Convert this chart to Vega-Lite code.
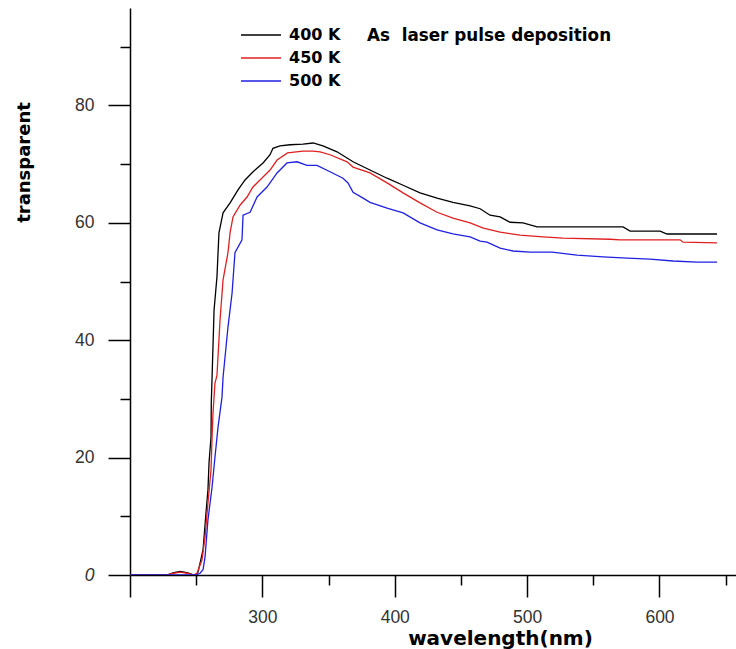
{
  "$schema": "https://vega.github.io/schema/vega-lite/v6.json",
  "width": 606,
  "height": 567,
  "autosize": {"type": "none"},
  "padding": {"left": 130, "top": 8, "right": 0, "bottom": 74},
  "background": "white",
  "config": {"view": {"stroke": null}},
  "data": {"values": [
    {"T":"400 K","w":200,"v":0},{"T":"400 K","w":228,"v":0},{"T":"400 K","w":233,"v":0.4},{"T":"400 K","w":238,"v":0.6},{"T":"400 K","w":243,"v":0.4},{"T":"400 K","w":247,"v":0.1},{"T":"400 K","w":250,"v":0},{"T":"400 K","w":251.4,"v":0.5},{"T":"400 K","w":255.2,"v":4.3},{"T":"400 K","w":257.4,"v":10.6},{"T":"400 K","w":258.9,"v":14.5},{"T":"400 K","w":259.7,"v":19.1},{"T":"400 K","w":261.2,"v":23.5},{"T":"400 K","w":261.4,"v":29.3},{"T":"400 K","w":262,"v":33.7},{"T":"400 K","w":263.5,"v":45.1},{"T":"400 K","w":265.7,"v":50.8},{"T":"400 K","w":267.2,"v":58.3},{"T":"400 K","w":270.3,"v":61.7},{"T":"400 K","w":275.6,"v":63.4},{"T":"400 K","w":281.6,"v":65.6},{"T":"400 K","w":286.9,"v":67.3},{"T":"400 K","w":293,"v":68.7},{"T":"400 K","w":300.5,"v":70.2},{"T":"400 K","w":305.8,"v":71.6},{"T":"400 K","w":308,"v":72.7},{"T":"400 K","w":313.3,"v":73.1},{"T":"400 K","w":320.9,"v":73.3},{"T":"400 K","w":330.7,"v":73.4},{"T":"400 K","w":338.3,"v":73.6},{"T":"400 K","w":345.8,"v":73.1},{"T":"400 K","w":356.4,"v":72.1},{"T":"400 K","w":368.5,"v":70.4},{"T":"400 K","w":381.3,"v":69.0},{"T":"400 K","w":394.2,"v":67.6},{"T":"400 K","w":406.3,"v":66.4},{"T":"400 K","w":419.1,"v":65.1},{"T":"400 K","w":432,"v":64.2},{"T":"400 K","w":444,"v":63.5},{"T":"400 K","w":456.9,"v":62.9},{"T":"400 K","w":464.5,"v":62.4},{"T":"400 K","w":472,"v":61.3},{"T":"400 K","w":479.6,"v":61.0},{"T":"400 K","w":487.1,"v":60.1},{"T":"400 K","w":496.9,"v":60.0},{"T":"400 K","w":507.5,"v":59.3},{"T":"400 K","w":572.5,"v":59.3},{"T":"400 K","w":577.8,"v":58.6},{"T":"400 K","w":600.5,"v":58.6},{"T":"400 K","w":605.7,"v":58.1},{"T":"400 K","w":643.5,"v":58.1},
    {"T":"450 K","w":200,"v":0},{"T":"450 K","w":228,"v":0},{"T":"450 K","w":233,"v":0.3},{"T":"450 K","w":238,"v":0.5},{"T":"450 K","w":243,"v":0.3},{"T":"450 K","w":248,"v":0},{"T":"450 K","w":250.6,"v":0.3},{"T":"450 K","w":254.4,"v":2.6},{"T":"450 K","w":256.7,"v":6.5},{"T":"450 K","w":258.9,"v":12.3},{"T":"450 K","w":261.2,"v":17.9},{"T":"450 K","w":262,"v":23.5},{"T":"450 K","w":262.7,"v":27.6},{"T":"450 K","w":264.2,"v":32.7},{"T":"450 K","w":265.7,"v":34},{"T":"450 K","w":268,"v":43.4},{"T":"450 K","w":270.3,"v":50.3},{"T":"450 K","w":274,"v":54.9},{"T":"450 K","w":275.6,"v":58.3},{"T":"450 K","w":277.8,"v":61},{"T":"450 K","w":283.1,"v":63},{"T":"450 K","w":288.4,"v":64.4},{"T":"450 K","w":292.9,"v":66.1},{"T":"450 K","w":298.2,"v":67.3},{"T":"450 K","w":305.8,"v":69},{"T":"450 K","w":311.1,"v":70.7},{"T":"450 K","w":319,"v":71.9},{"T":"450 K","w":330.7,"v":72.2},{"T":"450 K","w":338.3,"v":72.2},{"T":"450 K","w":343.6,"v":72.1},{"T":"450 K","w":351.1,"v":71.6},{"T":"450 K","w":364,"v":70.4},{"T":"450 K","w":368.5,"v":69.5},{"T":"450 K","w":381.3,"v":68.5},{"T":"450 K","w":394.2,"v":66.8},{"T":"450 K","w":406.3,"v":65.1},{"T":"450 K","w":419.1,"v":63.4},{"T":"450 K","w":432,"v":61.8},{"T":"450 K","w":444,"v":60.8},{"T":"450 K","w":456.9,"v":60.0},{"T":"450 K","w":467,"v":59.1},{"T":"450 K","w":479.6,"v":58.4},{"T":"450 K","w":494.7,"v":57.9},{"T":"450 K","w":512,"v":57.6},{"T":"450 K","w":527.2,"v":57.4},{"T":"450 K","w":562.7,"v":57.2},{"T":"450 K","w":570.2,"v":57.1},{"T":"450 K","w":615.6,"v":57.1},{"T":"450 K","w":617.8,"v":56.7},{"T":"450 K","w":643.5,"v":56.6},
    {"T":"500 K","w":200,"v":0},{"T":"500 K","w":250,"v":0},{"T":"500 K","w":252.9,"v":0.3},{"T":"500 K","w":255.2,"v":0.9},{"T":"500 K","w":256.7,"v":3.1},{"T":"500 K","w":258.9,"v":9.4},{"T":"500 K","w":262,"v":15},{"T":"500 K","w":264.2,"v":20.1},{"T":"500 K","w":266.5,"v":25.2},{"T":"500 K","w":269.5,"v":30.3},{"T":"500 K","w":270.3,"v":33.7},{"T":"500 K","w":274,"v":42.2},{"T":"500 K","w":277.1,"v":48},{"T":"500 K","w":279.3,"v":54.9},{"T":"500 K","w":284.6,"v":57.1},{"T":"500 K","w":285.4,"v":61.3},{"T":"500 K","w":290.7,"v":61.8},{"T":"500 K","w":296,"v":64.4},{"T":"500 K","w":303.5,"v":66.1},{"T":"500 K","w":311.1,"v":68.5},{"T":"500 K","w":318.6,"v":70.2},{"T":"500 K","w":326.2,"v":70.4},{"T":"500 K","w":333.7,"v":69.8},{"T":"500 K","w":341.3,"v":69.8},{"T":"500 K","w":351.1,"v":68.7},{"T":"500 K","w":360.9,"v":67.6},{"T":"500 K","w":364.7,"v":66.8},{"T":"500 K","w":368.5,"v":65.2},{"T":"500 K","w":376.1,"v":64.2},{"T":"500 K","w":381.3,"v":63.5},{"T":"500 K","w":394.2,"v":62.5},{"T":"500 K","w":406.3,"v":61.7},{"T":"500 K","w":419.1,"v":60},{"T":"500 K","w":432,"v":58.8},{"T":"500 K","w":444,"v":58.1},{"T":"500 K","w":456.9,"v":57.6},{"T":"500 K","w":464.5,"v":56.9},{"T":"500 K","w":469.7,"v":56.7},{"T":"500 K","w":479.6,"v":55.7},{"T":"500 K","w":489.4,"v":55.2},{"T":"500 K","w":502.2,"v":55.0},{"T":"500 K","w":518.9,"v":55.0},{"T":"500 K","w":537.7,"v":54.5},{"T":"500 K","w":557.4,"v":54.2},{"T":"500 K","w":575.5,"v":54.0},{"T":"500 K","w":592.9,"v":53.8},{"T":"500 K","w":610.3,"v":53.5},{"T":"500 K","w":628.4,"v":53.3},{"T":"500 K","w":643.5,"v":53.3}
  ]},
  "mark": {"type": "line", "strokeWidth": 1.3, "clip": true},
  "encoding": {
    "x": {
      "field": "w", "type": "quantitative",
      "scale": {"domain": [200, 657.8], "nice": false, "zero": false},
      "axis": {
        "values": [200, 250, 300, 350, 400, 450, 500, 550, 600, 650],
        "grid": false,
        "domainColor": "#000", "domainWidth": 1.5,
        "tickColor": "#000", "tickWidth": 1.5,
        "tickSize": {"condition": {"test": "datum.value % 100 === 0", "value": 22}, "value": 10},
        "labelExpr": "datum.value % 100 === 0 && datum.value > 200 ? datum.label : ''",
        "labelFont": "Liberation Sans", "labelFontSize": 17.5, "labelColor": "#333",
        "labelPadding": 11, "labelBaseline": "top",
        "title": "wavelength(nm)",
        "titleFont": "DejaVu Sans", "titleFontSize": 20, "titleFontWeight": "bold", "titleColor": "#000",
        "titleX": 370, "titleY": 69, "titleBaseline": "alphabetic", "titleAlign": "center"
      }
    },
    "y": {
      "field": "v", "type": "quantitative",
      "scale": {"domain": [0, 96.6], "nice": false, "zero": false},
      "axis": {
        "values": [0, 10, 20, 30, 40, 50, 60, 70, 80, 90],
        "grid": false,
        "domainColor": "#000", "domainWidth": 1.5,
        "tickColor": "#000", "tickWidth": 1.5,
        "tickSize": {"condition": {"test": "datum.value % 20 === 0", "value": 22}, "value": 10},
        "labelExpr": "datum.value % 20 === 0 ? datum.label : ''",
        "labelFont": "Liberation Sans", "labelFontSize": 17.5, "labelColor": "#333",
        "labelFontStyle": {"condition": {"test": "datum.value === 0", "value": "italic"}, "value": "normal"},
        "labelPadding": 14,
        "title": "transparent",
        "titleFont": "DejaVu Sans", "titleFontSize": 18, "titleFontWeight": "bold", "titleColor": "#000",
        "titleAngle": 270, "titleX": -101, "titleY": 154, "titleBaseline": "alphabetic", "titleAlign": "center"
      }
    },
    "color": {
      "field": "T", "type": "nominal",
      "scale": {"domain": ["400 K", "450 K", "500 K"], "range": ["#000000", "#e02020", "#2020e0"]},
      "legend": {
        "orient": "none", "legendX": 122, "legendY": 18,
        "title": "As\u00a0 laser pulse deposition",
        "titleOrient": "right", "titleAnchor": "start", "titlePadding": 27,
        "titleLimit": 500,
        "titleFont": "DejaVu Sans", "titleFontSize": 16.8, "titleFontWeight": "bold", "titleColor": "#000",
        "titleBaseline": "line-top", "titleLineHeight": 20,
        "symbolType": "M-2.5,0H2.5", "symbolSize": 256, "symbolStrokeWidth": 1.5,
        "labelFont": "DejaVu Sans", "labelFontSize": 16, "labelFontWeight": "bold", "labelColor": "#000",
        "labelOffset": 19, "rowPadding": 6
      }
    }
  }
}
